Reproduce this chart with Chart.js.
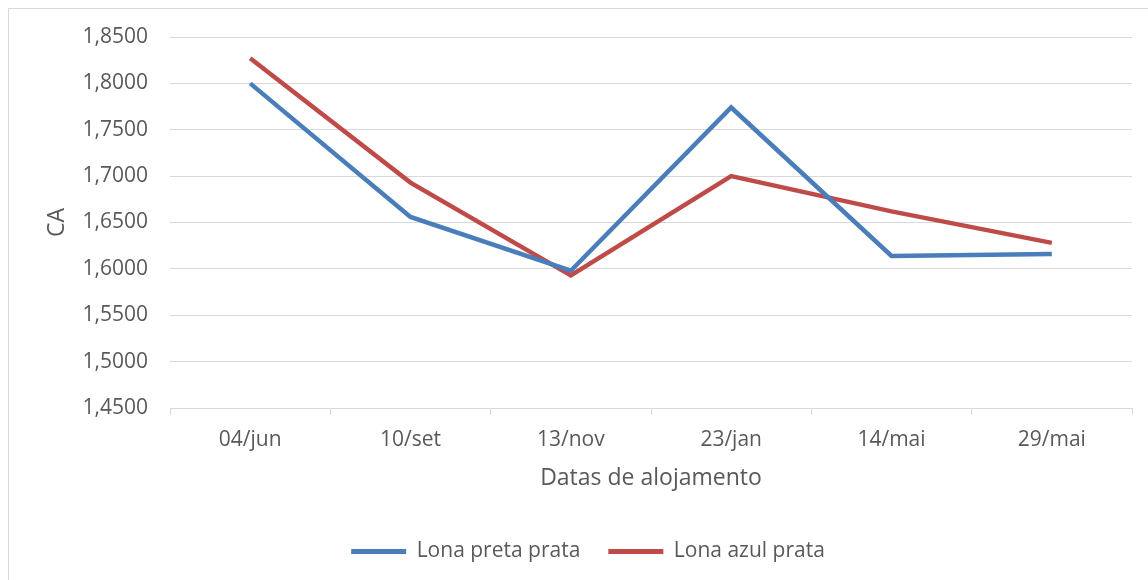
<!DOCTYPE html>
<html>
<head>
<meta charset="utf-8">
<script src="https://cdn.jsdelivr.net/npm/chart.js@4"></script>
<style>
  html, body { margin: 0; padding: 0; background: #fff; }
  #wrap { position: relative; width: 1148px; height: 580px; }
  #frame { position: absolute; left: 8px; top: 8px; width: 1160px; height: 600px; border: 1px solid #d9d9d9; box-sizing: border-box; }
</style>
</head>
<body>
<div id="wrap">
  <div id="frame"></div>
  <canvas id="ca_Chart" width="1148" height="580"></canvas>
</div>
<script>
// dados
const labels = ['04/jun', '10/set', '13/nov', '23/jan', '14/mai', '29/mai'];
const lonaPreta = [1.800, 1.656, 1.598, 1.774, 1.614, 1.616];
const lonaAzul = [1.827, 1.693, 1.593, 1.700, 1.662, 1.628];

const textColor = '#595959';
const gridColor = '#d9d9d9';
const fontFamily = "'Open Sans', 'Liberation Sans', sans-serif";

const data = {
  labels: labels,
  datasets: [{
    label: 'Lona preta prata',
    data: lonaPreta,
    borderColor: '#4a7ebb',
    backgroundColor: '#4a7ebb',
    borderWidth: 4.5,
    pointRadius: 0,
    tension: 0
  }, {
    label: 'Lona azul prata',
    data: lonaAzul,
    borderColor: '#be4b48',
    backgroundColor: '#be4b48',
    borderWidth: 4.5,
    pointRadius: 0,
    tension: 0
  }]
};

const config = {
  type: 'line',
  data: data,
  options: {
    responsive: false,
    animation: false,
    layout: {
      padding: { left: 44, right: 16, top: 37, bottom: 8 }
    },
    plugins: {
      tooltip: { enabled: false },
      legend: {
        position: 'bottom',
        labels: {
          color: textColor,
          font: { family: fontFamily, size: 21 },
          boxWidth: 55,
          boxHeight: 5,
          padding: 28,
          generateLabels: (chart) => chart.data.datasets.map((ds, i) => ({
            text: ds.label,
            fillStyle: ds.borderColor,
            strokeStyle: ds.borderColor,
            lineWidth: 0,
            fontColor: textColor,
            datasetIndex: i
          }))
        }
      }
    },
    scales: {
      x: {
        offset: true,
        grid: {
          offset: true,
          drawOnChartArea: false,
          drawTicks: true,
          tickLength: 7,
          color: gridColor
        },
        border: { color: gridColor, width: 1 },
        ticks: {
          color: textColor,
          font: { family: fontFamily, size: 21 },
          padding: 12,
          maxRotation: 0
        },
        title: {
          display: true,
          text: 'Datas de alojamento',
          color: textColor,
          font: { family: fontFamily, size: 23 },
          padding: { top: 8, bottom: 21 }
        },
        afterFit: (scale) => { scale.height = 105; }
      },
      y: {
        min: 1.45,
        max: 1.85,
        grid: {
          color: gridColor,
          drawTicks: false
        },
        border: { display: false },
        ticks: {
          stepSize: 0.05,
          color: textColor,
          font: { family: fontFamily, size: 21 },
          padding: 22,
          callback: (v) => v.toFixed(4).replace('.', ',')
        },
        title: {
          display: true,
          text: 'CA',
          color: textColor,
          font: { family: fontFamily, size: 23 },
          padding: { top: 0, bottom: 8 }
        },
        afterFit: (scale) => { scale.width = 126; }
      }
    }
  }
};

const myChart = new Chart(document.getElementById('ca_Chart'), config);
</script>
</body>
</html>
